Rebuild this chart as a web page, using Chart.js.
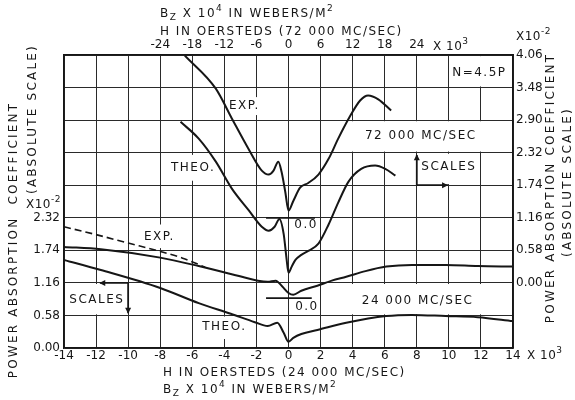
<!doctype html>
<html>
<head>
<meta charset="utf-8">
<title>Power absorption coefficient vs H</title>
<script src="https://cdn.jsdelivr.net/npm/chart.js@4"></script>
<style>html,body{margin:0;background:#fff}</style>
</head>
<body>
<canvas id="chart" width="575" height="400"></canvas>
<script>
// 72 000 Mc/sec curves: H in kilo-oersted (top axis), coefficient x10^-2 (right scale)
const exp72H  = [-19.4, -13.6, -10.6, -7.5, -5.0, -3.7, -2.8, -1.9, -1.3, -0.6, 0, 0.9, 2.2, 3.7, 5.6, 7.5, 9.3, 11.4, 13.4, 14.9, 16.8, 19.2];
const exp72V  = [4.05, 3.46, 2.93, 2.39, 2.00, 1.93, 2.00, 2.16, 1.98, 1.62, 1.29, 1.46, 1.70, 1.78, 1.93, 2.21, 2.57, 2.95, 3.25, 3.34, 3.27, 3.07];
const theo72H = [-20.2, -16.8, -13.6, -10.6, -7.5, -5.0, -3.7, -2.6, -1.7, -0.9, -0.4, 0, 0.6, 1.3, 2.4, 3.7, 5.6, 7.5, 9.3, 11.2, 13.6, 16.2, 18.1, 20.0];
const theo72V = [2.87, 2.57, 2.16, 1.68, 1.30, 1.00, 0.93, 1.00, 1.14, 0.87, 0.46, 0.18, 0.29, 0.41, 0.50, 0.57, 0.70, 1.04, 1.43, 1.80, 2.03, 2.09, 2.03, 1.91];

// 24 000 Mc/sec curves: H in kilo-oersted (bottom axis), coefficient x10^-2 (left scale)
const exp24H     = [-14, -11.7, -8, -5.6, -3.6, -1.9, -1.3, -0.8, -0.4, 0, 0.3, 0.8, 1.8, 2.7, 3.6, 4.8, 6.1, 7.7, 9.8, 11.8, 14];
const exp24V     = [1.80, 1.76, 1.61, 1.46, 1.32, 1.20, 1.18, 1.20, 1.10, 0.98, 0.95, 1.02, 1.11, 1.20, 1.27, 1.37, 1.45, 1.48, 1.48, 1.46, 1.45];
const exp24DashH = [-14, -12, -10, -8, -6.6, -5.2];
const exp24DashV = [2.16, 2.02, 1.87, 1.72, 1.60, 1.44];
const theo24H    = [-14, -11.7, -8, -5.6, -3.6, -2.1, -1.3, -0.7, -0.3, 0, 0.3, 0.8, 1.8, 3.6, 6.1, 7.7, 9.8, 11.8, 14];
const theo24V    = [1.57, 1.39, 1.07, 0.80, 0.61, 0.46, 0.39, 0.45, 0.27, 0.11, 0.18, 0.25, 0.32, 0.45, 0.57, 0.59, 0.57, 0.55, 0.48];

// tick labels
const bottomTicks = [-14, -12, -10, -8, -6, -4, -2, 0, 2, 4, 6, 8, 10, 12, 14];
const topTicks = [-24, -18, -12, -6, 0, 6, 12, 18, 24];
const stepY = 0.58;

const zip = (xs, ys) => xs.map((x, i) => ({ x, y: ys[i] }));
const ink = '#161616';
const FONT = '"DejaVu Sans", sans-serif';
Chart.defaults.font.family = FONT;
Chart.defaults.font.size = 12;
Chart.defaults.color = ink;

// white masks behind the lettering, in bottom-H / left-scale units
const boxes = [
  [10.1, 13.9, 4.66, 5.20],
  [3.7, 13.9, 3.50, 4.04],
  [8.1, 11.9, 2.92, 3.46],
  [-13.9, -10.1, 0.60, 1.14],
  [3.7, 13.9, 0.60, 1.14],
  [-3.9, -1.6, 4.15, 4.47],
  [-7.4, -4.5, 2.98, 3.44],
  [-9.3, -6.8, 1.78, 2.20],
  [-5.5, -2.5, 0.16, 0.56]
];
const notes = [
  ['N=4.5P', 11.9, 4.90],
  ['72 000 MC/SEC', 8.25, 3.78],
  ['SCALES', 10.0, 3.22],
  ['SCALES', -11.95, 0.85],
  ['24 000 MC/SEC', 8.05, 0.84],
  ['EXP.', -2.75, 4.31],
  ['THEO.', -5.95, 3.21],
  ['EXP.', -8.05, 1.98],
  ['THEO.', -4.0, 0.37],
  ['0.0', 1.1, 2.19],
  ['0.0', 1.15, 0.74]
];

function rich(c, x, y, parts) {
  let cx = x;
  for (const [t, m] of parts) {
    c.font = (m ? '9px ' : '12px ') + FONT;
    c.fillText(t, cx, y + (m === 1 ? -5 : m === -1 ? 4 : 0));
    cx += c.measureText(t).width;
  }
}

function head(c, x, y, dir) {
  const s = 6, w = 3;
  c.beginPath();
  if (dir === 'up') { c.moveTo(x, y); c.lineTo(x - w, y + s); c.lineTo(x + w, y + s); }
  if (dir === 'down') { c.moveTo(x, y); c.lineTo(x - w, y - s); c.lineTo(x + w, y - s); }
  if (dir === 'left') { c.moveTo(x, y); c.lineTo(x + s, y - w); c.lineTo(x + s, y + w); }
  if (dir === 'right') { c.moveTo(x, y); c.lineTo(x - s, y - w); c.lineTo(x - s, y + w); }
  c.closePath();
  c.fill();
}

const paper = {
  id: 'paper',
  beforeDraw(chart) {
    const c = chart.ctx;
    c.save();
    c.fillStyle = '#fff';
    c.fillRect(0, 0, chart.width, chart.height);
    c.restore();
  },
  beforeDatasetsDraw(chart) {
    const { ctx: c, scales: { x, yL } } = chart;
    c.save();
    c.fillStyle = '#fff';
    for (const b of boxes) {
      const x1 = x.getPixelForValue(b[0]), x2 = x.getPixelForValue(b[1]);
      const y1 = yL.getPixelForValue(b[3]), y2 = yL.getPixelForValue(b[2]);
      c.fillRect(x1, y1, x2 - x1, y2 - y1);
    }
    c.restore();
  },
  afterDatasetsDraw(chart) {
    const { ctx: c, scales: { x, yL } } = chart;
    const X = v => x.getPixelForValue(v), Y = v => yL.getPixelForValue(v);
    c.save();
    c.fillStyle = ink;
    c.strokeStyle = ink;
    c.letterSpacing = '1.5px';
    c.font = '12px ' + FONT;
    c.textAlign = 'center';
    c.textBaseline = 'middle';
    for (const [t, h, v] of notes) c.fillText(t, X(h), Y(v));

    // zero reference bars
    c.lineWidth = 1.8;
    c.beginPath();
    c.moveTo(X(-1.4), Y(2.32)); c.lineTo(X(1.65), Y(2.32));
    c.moveTo(X(-1.4), Y(0.89)); c.lineTo(X(1.45), Y(0.89));
    // scale arrows
    c.moveTo(X(8), Y(2.90)); c.lineTo(X(8), Y(3.44));
    c.moveTo(X(8), Y(2.90)); c.lineTo(X(9.95), Y(2.90));
    c.moveTo(X(-10), Y(1.16)); c.lineTo(X(-11.75), Y(1.16));
    c.moveTo(X(-10), Y(1.16)); c.lineTo(X(-10), Y(0.62));
    c.stroke();
    head(c, X(8), Y(3.45), 'up');
    head(c, X(9.95), Y(2.90), 'right');
    head(c, X(-11.8), Y(1.16), 'left');
    head(c, X(-10), Y(0.61), 'down');
    c.restore();
  },
  afterDraw(chart) {
    const c = chart.ctx;
    c.save();
    c.fillStyle = ink;
    c.letterSpacing = '1.5px';
    c.textBaseline = 'middle';
    c.textAlign = 'left';
    rich(c, 160, 14, [['B', 0], ['Z', -1], [' X 10', 0], ['4', 1], [' IN WEBERS/M', 0], ['2', 1]]);
    rich(c, 160, 32, [['H IN OERSTEDS (72 000 MC/SEC)', 0]]);
    rich(c, 163, 373, [['H IN OERSTEDS (24 000 MC/SEC)', 0]]);
    rich(c, 163, 390, [['B', 0], ['Z', -1], [' X 10', 0], ['4', 1], [' IN WEBERS/M', 0], ['2', 1]]);
    c.letterSpacing = '0.5px';
    rich(c, 433, 47, [['X 10', 0], ['3', 1]]);
    rich(c, 527, 356, [['X 10', 0], ['3', 1]]);
    rich(c, 516, 37, [['X10', 0], ['-2', 1]]);
    rich(c, 26, 205, [['X10', 0], ['-2', 1]]);

    c.letterSpacing = '2.2px';
    c.font = '12px ' + FONT;
    c.textAlign = 'center';
    const vert = (t, px, py) => {
      c.save();
      c.translate(px, py);
      c.rotate(-Math.PI / 2);
      c.fillText(t, 0, 0);
      c.restore();
    };
    vert('POWER ABSORPTION  COEFFICIENT', 14, 240);
    vert('(ABSOLUTE SCALE)', 33, 119);
    vert('POWER ABSORPTION COEFFICIENT', 551, 188);
    vert('(ABSOLUTE SCALE)', 568, 182);
    c.restore();
  }
};

const gridOpts = { color: '#2a2a2a', lineWidth: 1, drawTicks: false };
const borderOpts = { color: ink, width: 1.6 };

new Chart(document.getElementById('chart'), {
  type: 'line',
  data: {
    datasets: [
      { data: zip(exp72H, exp72V), xAxisID: 'xt', yAxisID: 'yR' },
      { data: zip(theo72H, theo72V), xAxisID: 'xt', yAxisID: 'yR' },
      { data: zip(exp24DashH, exp24DashV), xAxisID: 'x', yAxisID: 'yL', borderDash: [7, 4], borderWidth: 1.6 },
      { data: zip(exp24H, exp24V), xAxisID: 'x', yAxisID: 'yL' },
      { data: zip(theo24H, theo24V), xAxisID: 'x', yAxisID: 'yL' }
    ]
  },
  options: {
    responsive: false,
    animation: false,
    devicePixelRatio: 1,
    layout: { padding: 0 },
    plugins: { legend: { display: false }, tooltip: { enabled: false } },
    elements: {
      point: { radius: 0 },
      line: { borderColor: ink, borderWidth: 2, cubicInterpolationMode: 'monotone', fill: false }
    },
    scales: {
      x: {
        type: 'linear', position: 'bottom', min: -14, max: 14,
        afterBuildTicks: s => { s.ticks = bottomTicks.map(v => ({ value: v })); },
        ticks: { padding: 1, maxRotation: 0, autoSkip: false, callback: v => String(v) },
        grid: gridOpts, border: borderOpts,
        afterFit: s => { s.height = 52; }
      },
      xt: {
        type: 'linear', position: 'top', min: -42, max: 42,
        afterBuildTicks: s => { s.ticks = topTicks.map(v => ({ value: v })); },
        ticks: { padding: 3, maxRotation: 0, autoSkip: false, callback: v => String(v) },
        grid: { display: false, drawTicks: false }, border: borderOpts,
        afterFit: s => { s.height = 55; }
      },
      yL: {
        type: 'linear', position: 'left', min: 0, max: 5.22,
        afterBuildTicks: s => { s.ticks = [0, 1, 2, 3, 4, 5, 6, 7, 8, 9].map(i => ({ value: +(stepY * i).toFixed(2) })); },
        ticks: { padding: 4, autoSkip: false, callback: v => (v <= 2.33 ? v.toFixed(2) : '') },
        grid: gridOpts, border: borderOpts,
        afterFit: s => { s.width = 64; }
      },
      yR: {
        type: 'linear', position: 'right', min: -1.16, max: 4.06,
        afterBuildTicks: s => { s.ticks = [-2, -1, 0, 1, 2, 3, 4, 5, 6, 7].map(i => ({ value: +(stepY * i).toFixed(2) })); },
        ticks: { padding: 3, autoSkip: false, callback: v => (v >= -0.001 ? Math.abs(v).toFixed(2) : '') },
        grid: { display: false, drawTicks: false }, border: borderOpts,
        afterFit: s => { s.width = 62; }
      }
    }
  },
  plugins: [paper]
});
</script>
</body>
</html>
